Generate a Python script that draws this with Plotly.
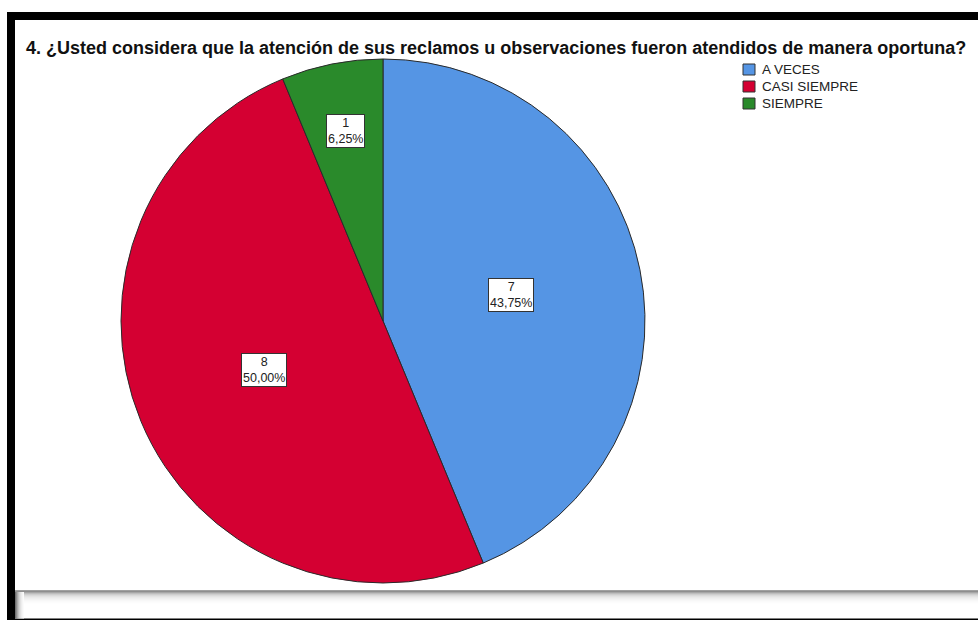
import math
import plotly.graph_objects as go

# Survey answers and their counts
categories = ["A VECES", "CASI SIEMPRE", "SIEMPRE"]
counts = [7, 8, 1]
colors = ["#5595E4", "#D40032", "#2A8A2B"]

title_text = ("4. ¿Usted considera que la atención de sus reclamos u "
              "observaciones fueron atendidos de manera oportuna?")

W, H = 978, 621
FONT = "Arial, 'Liberation Sans', sans-serif"

# Pie geometry in pixels (centre and radius)
CX, CY, R = 383, 321, 262
# how far out (fraction of radius) each slice label sits
label_radius = [0.50, 0.49, 0.74]


def px_x(x):
    return x / W


def px_y(y):
    return 1 - y / H


fig = go.Figure(
    go.Pie(
        labels=categories,
        values=counts,
        sort=False,
        direction="clockwise",
        rotation=0,
        textinfo="none",
        marker=dict(colors=colors, line=dict(color="#2a2a2a", width=1)),
        domain=dict(x=[px_x(CX - R), px_x(CX + R)],
                    y=[px_y(CY + R), px_y(CY - R)]),
        showlegend=False,
        hoverinfo="label+value+percent",
    )
)

# Value / percentage boxes inside each slice
total = sum(counts)
annotations = []
cum = 0
for cat, v, f in zip(categories, counts, label_radius):
    mid = (cum + v / 2) / total
    cum += v
    theta = 2 * math.pi * mid
    x = CX + f * R * math.sin(theta)
    y = CY - f * R * math.cos(theta)
    pct = f"{100 * v / total:.2f}".replace(".", ",")
    annotations.append(dict(
        x=px_x(x), y=px_y(y), xref="paper", yref="paper",
        xanchor="center", yanchor="middle",
        text=f"{v}<br>{pct}%", showarrow=False,
        font=dict(family=FONT, size=12.5, color="#222222"),
        bgcolor="white", bordercolor="#333333", borderwidth=1, borderpad=1,
        align="center",
    ))

# Legend drawn as small swatches with labels
shapes = []
LEG_X, LEG_Y0, LEG_DY, SW, SH = 743, 64, 17, 12, 11
for i, (cat, col) in enumerate(zip(categories, colors)):
    top = LEG_Y0 + i * LEG_DY
    shapes.append(dict(type="rect", xref="paper", yref="paper",
                       x0=px_x(LEG_X), x1=px_x(LEG_X + SW),
                       y0=px_y(top + SH), y1=px_y(top),
                       fillcolor=col, line=dict(color="#333333", width=1)))
    annotations.append(dict(
        x=px_x(LEG_X + SW + 5), y=px_y(top + SH / 2), xref="paper", yref="paper",
        xanchor="left", yanchor="middle", text=cat, showarrow=False,
        font=dict(family=FONT, size=13.5, color="#222222"),
    ))

# Title
annotations.append(dict(
    x=px_x(24), y=px_y(48), xref="paper", yref="paper",
    xanchor="left", yanchor="middle", text=title_text, showarrow=False,
    font=dict(family=FONT, size=18, color="#111111", weight="bold"),
))


def rect(x0, y0, x1, y1, color):
    return dict(type="rect", xref="paper", yref="paper",
                x0=px_x(x0), x1=px_x(x1), y0=px_y(y1), y1=px_y(y0),
                fillcolor=color, line=dict(width=0), layer="below")


# Frame: heavy black top and left edges, thin bottom line
shapes.append(rect(7, 12, W, 20, "#000000"))
shapes.append(rect(7, 12, 15, 620, "#000000"))
shapes.append(rect(7, 618.5, W, 620, "#000000"))

# Grey shadow strip near the bottom
band = ["#a0a0a0", "#8e8e8e", "#a6a6a6", "#bdbdbd", "#cecece", "#dadada",
        "#e3e3e3", "#eaeaea", "#efefef", "#f3f3f3", "#f7f7f7", "#fafafa",
        "#fcfcfc", "#fefefe"]
for i, c in enumerate(band):
    shapes.append(rect(15, 590 + i, W, 591 + i, c))
side = ["#6f6f6f", "#8c8c8c", "#a8a8a8", "#c0c0c0", "#d3d3d3", "#e2e2e2",
        "#ededed", "#f5f5f5", "#fbfbfb"]
for i, c in enumerate(side):
    shapes.append(rect(15 + i, 592, 16 + i, 618.5, c))

fig.update_layout(
    width=W, height=H, autosize=False,
    margin=dict(l=0, r=0, t=0, b=0),
    paper_bgcolor="white", plot_bgcolor="white",
    shapes=shapes, annotations=annotations,
    font=dict(family=FONT),
)

fig.write_html("out.html")
